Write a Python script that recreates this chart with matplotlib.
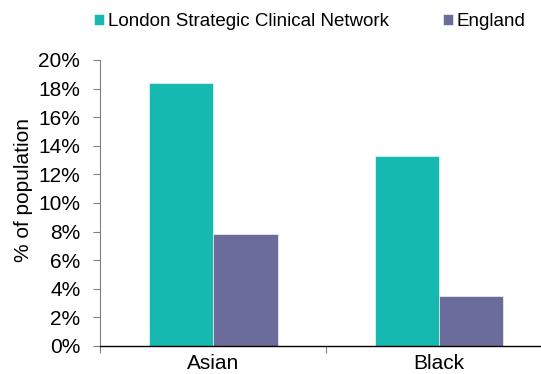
import numpy as np
import matplotlib.pyplot as plt
from matplotlib.ticker import MultipleLocator, FuncFormatter

plt.rcParams['font.family'] = ['Liberation Sans', 'DejaVu Sans']

categories = ['Asian', 'Black']
series_names = ['London Strategic Clinical Network', 'England']
london = [18.4, 13.3]
england = [7.8, 3.5]
colors = ['#15B9AF', '#6B6C9C']

fig = plt.figure(figsize=(5.41, 3.74), dpi=100)
# plot area runs a little past the right edge of the figure
ax = fig.add_axes([0.1856, 0.0749, 0.8348, 0.7647])

x = np.arange(len(categories))
w = 0.285
for i, (vals, name) in enumerate(zip([london, england], series_names)):
    ax.bar(x + (i - 0.5) * w, vals, width=w, color=colors[i], label=name,
           edgecolor='white', linewidth=0.4)

ax.set_xlim(-0.5, len(categories) - 0.5)
ax.set_ylim(0, 20)
ax.yaxis.set_major_locator(MultipleLocator(2))
ax.yaxis.set_major_formatter(FuncFormatter(lambda v, p: f'{v:.0f}%'))

ax.set_xticks(x)
ax.set_xticklabels(categories)
ax.set_xticks(np.arange(len(categories) + 1) - 0.5, minor=True)
ax.tick_params(axis='x', which='major', length=0, pad=5.5, labelsize=15)
ax.tick_params(axis='x', which='minor', length=5, width=0.8, color='#808080')
ax.tick_params(axis='y', length=5, width=0.8, color='#808080', pad=9.5,
               labelsize=15)

for sp in ['top', 'right']:
    ax.spines[sp].set_visible(False)
ax.spines['left'].set_color('#808080')
ax.spines['left'].set_linewidth(0.8)
ax.spines['bottom'].set_color('black')
ax.spines['bottom'].set_linewidth(1.0)

ax.set_ylabel('% of population', fontsize=15)
ax.yaxis.set_label_coords(-0.149, 0.545)

fig.legend(loc='center left', bbox_to_anchor=(94 / 541, 1 - 21.7 / 374),
           ncol=2, frameon=False, fontsize=13.5, borderpad=0,
           borderaxespad=0, handlelength=0.55, handleheight=0.55,
           handletextpad=0.18, columnspacing=2.9)

plt.savefig('out.png', dpi=100)
